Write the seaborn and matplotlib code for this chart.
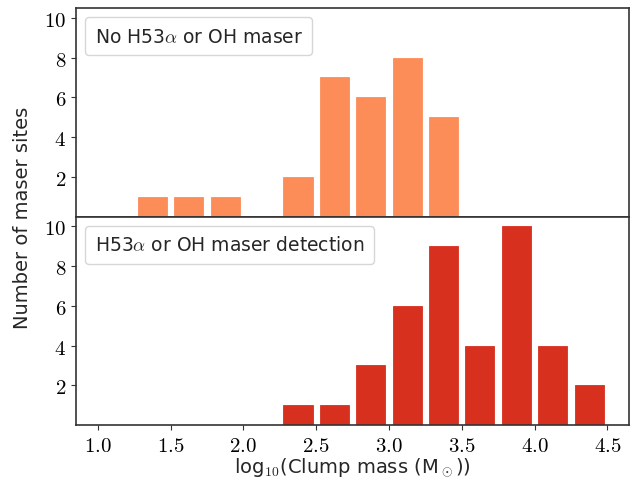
import numpy as np
import matplotlib
matplotlib.use("Agg")
import matplotlib.pyplot as plt
import seaborn as sns
from matplotlib.ticker import FuncFormatter

# ── Data (bin centres in log10 clump mass, counts per bin) ───────────────
bin_centres = [1.125, 1.375, 1.625, 1.875, 2.125, 2.375, 2.625,
               2.875, 3.125, 3.375, 3.625, 3.875, 4.125, 4.375]
counts_no_maser = [0, 1, 1, 1, 0, 2, 7, 6, 8, 5, 0, 0, 0, 0]
counts_maser    = [0, 0, 0, 0, 0, 1, 1, 3, 6, 9, 4, 10, 4, 2]
label_no_maser = r"No H53$\alpha$ or OH maser"
label_maser    = r"H53$\alpha$ or OH maser detection"
xticks = [1.0, 1.5, 2.0, 2.5, 3.0, 3.5, 4.0, 4.5]
yticks = [2, 4, 6, 8, 10]

sns.set_style("ticks")
plt.rcParams["font.family"] = ["DejaVu Sans"]
plt.rcParams["mathtext.fontset"] = "cm"

fig = plt.figure(figsize=(6.3, 4.81), dpi=100)
ax_top = fig.add_axes([0.1206, 0.5478, 0.878, 0.4335])
ax_bot = fig.add_axes([0.1206, 0.1143, 0.878, 0.4335], sharex=ax_top)

for ax, counts, colour, label in [
    (ax_top, counts_no_maser, "#fc8d59", label_no_maser),
    (ax_bot, counts_maser, "#d7301f", label_maser),
]:
    sns.histplot(x=bin_centres, weights=counts, binrange=(1.0, 4.5),
                 binwidth=0.25, shrink=0.8, color=colour, alpha=1,
                 edgecolor=colour, linewidth=0.6, label=label, ax=ax)
    ax.set_ylim(0, 10.5)
    ax.set_yticks(yticks)
    ax.set_ylabel("")
    ax.yaxis.set_major_formatter(FuncFormatter(lambda v, p: f"${v:.0f}$"))
    ax.tick_params(labelsize=15, colors="#333333", labelcolor="black")
    for s in ax.spines.values():
        s.set_color("#333333")
        s.set_linewidth(1.2)
    leg = ax.legend(loc="upper left", handlelength=0, handletextpad=0,
                    fontsize=13.5, borderpad=0.5, fancybox=True)
    for h in leg.legend_handles:
        h.set_visible(False)

ax_top.set_xlim(0.85, 4.65)
ax_bot.set_xticks(xticks)
ax_bot.xaxis.set_major_formatter(FuncFormatter(lambda v, p: f"${v:.1f}$"))
ax_top.tick_params(axis="x", labelbottom=False)
ax_bot.set_xlabel(r"log$_{10}$(Clump mass (M$_\odot$))", fontsize=14, labelpad=1)

fig.text(0.035, 0.548, "Number of maser sites", rotation=90,
         ha="center", va="center", fontsize=14)

fig.savefig("out.png", dpi=100)
